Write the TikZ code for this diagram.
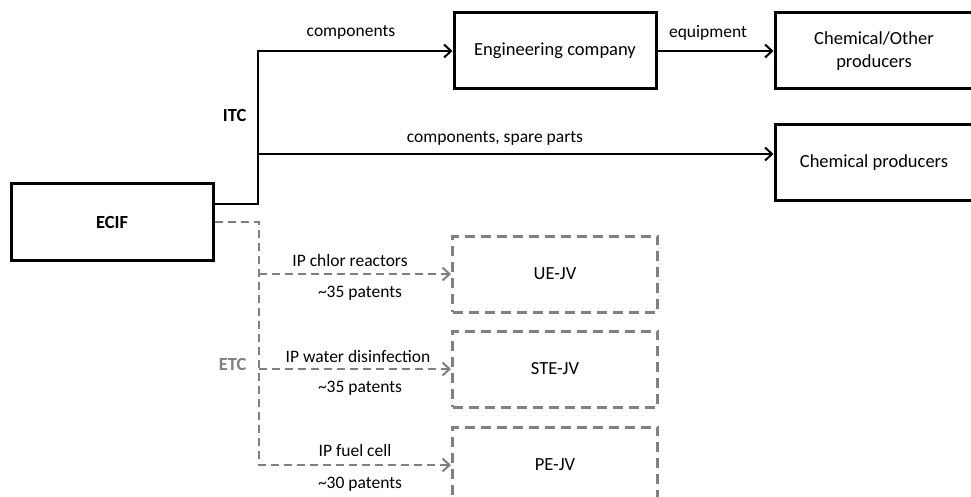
\documentclass[tikz,border=0pt]{standalone}
\usepackage{fontspec}
\setmainfont{Carlito}
\usetikzlibrary{arrows.meta,positioning}
\tikzset{
  firm/.style={draw=black,line width=3pt,minimum width=202pt,minimum height=76pt,align=center,font=\fontsize{18.5}{23}\selectfont},
  jv/.style={draw=gray,line width=3pt,dash pattern=on 10pt off 6pt,minimum width=205pt,minimum height=76pt,font=\fontsize{18.5}{23}\selectfont},
  flow/.style={line width=2pt,-{Straight Barb[length=7pt,width=13pt,line width=2pt]}},
  ipflow/.style={flow,gray,dash pattern=on 8pt off 5pt},
  lbl/.style={font=\fontsize{17.5}{21}\selectfont},
  chan/.style={font=\bfseries\fontsize{18.5}{22}\selectfont},
}
\begin{document}
\begin{tikzpicture}[x=1pt,y=-1pt]
  \useasboundingbox (0,0) rectangle (971,497);
  % --- firms ---
  \node[firm] (ecif) at (112,222) {\bfseries ECIF};
  \node[firm] (eng) at (555,51) {Engineering company};
  \node[firm,minimum width=198pt] (other) at (874,51) {Chemical/Other\\ producers};
  \node[firm,minimum width=198pt] (chem) at (874,162.5) {Chemical producers};
  % --- joint ventures ---
  \node[jv] (ue) at (555,274) {UE-JV};
  \node[jv] (ste) at (555,369) {STE-JV};
  \node[jv] (pe) at (555,465) {PE-JV};
  % --- ITC: solid flows ---
  \coordinate (itcbus) at (258,154);
  \draw[flow] ([yshift=18pt]ecif.east) -| (itcbus) |- (eng.west);
  \draw[flow] (itcbus) -- (itcbus -| chem.west);
  \draw[flow] (eng.east) -- (other.west);
  \node[lbl] (lcomp) at (351,32) {components};
  \node[lbl] (lequip) at (708,33) {equipment};
  \node[lbl] (lspare) at (495,138) {components, spare parts};
  \node[chan,anchor=east] (itc) at (250,115) {ITC};
  % --- ETC: dashed flows ---
  \coordinate (etcbus) at (259,465);
  \draw[ipflow] (ecif.east) -| (etcbus) -- (pe.west);
  \draw[ipflow] (ue.west -| etcbus) -- (ue.west);
  \draw[ipflow] (ste.west -| etcbus) -- (ste.west);
  \node[lbl] (lchlor) at (350,260) {IP chlor reactors};
  \node[lbl] (pchlor) at (360,293) {\textasciitilde 35 patents};
  \node[lbl] (lwater) at (358,356) {IP water disinfection};
  \node[lbl] (pwater) at (360,388) {\textasciitilde 35 patents};
  \node[lbl] (lfuel) at (355,450) {IP fuel cell};
  \node[lbl] (pfuel) at (360,484) {\textasciitilde 30 patents};
  \node[chan,gray,anchor=east] (etc) at (250,364) {ETC};
\end{tikzpicture}
\end{document}
